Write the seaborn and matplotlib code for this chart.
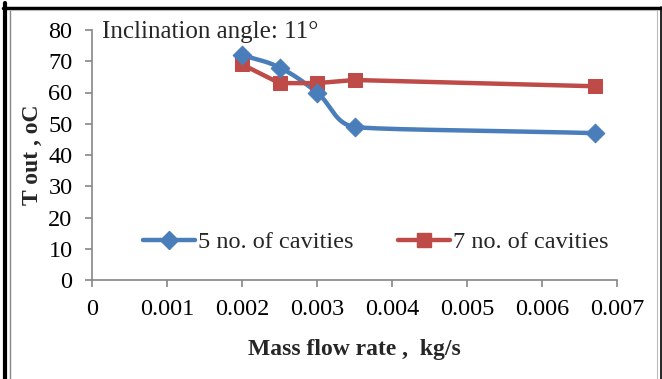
import numpy as np
import pandas as pd
import matplotlib
matplotlib.use("Agg")
import matplotlib.pyplot as plt
from matplotlib.lines import Line2D
import seaborn as sns

# ---- data ----
mass_flow = [0.002, 0.0025, 0.003, 0.0035, 0.0067]
tout_5 = [72, 68, 60, 49, 47]
tout_7 = [69, 63, 63, 64, 62]
series_names = ["5 no. of cavities", "7 no. of cavities"]
x_ticks = [0, 0.001, 0.002, 0.003, 0.004, 0.005, 0.006, 0.007]
x_ticklabels = ["0", "0.001", "0.002", "0.003", "0.004", "0.005", "0.006", "0.007"]
y_ticks = [0, 10, 20, 30, 40, 50, 60, 70, 80]

BLUE = "#4A7EBB"
RED = "#BE4B48"
GRAY = "#868686"

sns.set_theme(style="white")
plt.rcParams["font.family"] = ["Liberation Serif", "DejaVu Serif"]

W, H = 662, 379
fig = plt.figure(figsize=(W / 100, H / 100), dpi=100)
left, right, top, bottom = 92, 617, 30, 280
ax = fig.add_axes([left / W, 1 - bottom / H, (right - left) / W, (bottom - top) / H])

xlim = (0, 0.007)
ylim = (0, 80)
ax.set_xlim(*xlim)
ax.set_ylim(*ylim)


def smooth(xs, ys, n=40):
    """Smoothed display curve through the data points (Bezier, tangent length limited by neighbours)."""
    sx = (xlim[1] - xlim[0]) / (right - left)
    sy = (ylim[1] - ylim[0]) / (bottom - top)
    P = np.column_stack([np.asarray(xs) / sx, np.asarray(ys) / sy])
    m = len(P)
    seglen = [np.linalg.norm(P[i + 1] - P[i]) for i in range(m - 1)]
    tang = []
    for i in range(m):
        a = P[i - 1] if i > 0 else P[i]
        b = P[i + 1] if i < m - 1 else P[i]
        d = b - a
        tang.append(d / (np.linalg.norm(d) + 1e-9))
    out = []
    for i in range(m - 1):
        p1, p2 = P[i], P[i + 1]
        L = seglen[i]
        k1 = 0.4 * min(L, seglen[i - 1]) if i > 0 else 0.4 * L
        k2 = 0.4 * min(L, seglen[i + 1]) if i + 1 < m - 1 else 0.4 * L
        c1 = p1 + tang[i] * k1
        c2 = p2 - tang[i + 1] * k2
        t = np.linspace(0, 1, n)[:, None]
        seg = (1 - t) ** 3 * p1 + 3 * (1 - t) ** 2 * t * c1 + 3 * (1 - t) * t ** 2 * c2 + t ** 3 * p2
        out.append(seg if i == 0 else seg[1:])
    C = np.vstack(out)
    return C[:, 0] * sx, C[:, 1] * sy


sx5, sy5 = smooth(mass_flow, tout_5)
df5 = pd.DataFrame({"x": sx5, "y": sy5})
df7 = pd.DataFrame({"x": mass_flow, "y": tout_7})
dfm5 = pd.DataFrame({"x": mass_flow, "y": tout_5})

sns.lineplot(data=df5, x="x", y="y", ax=ax, color=BLUE, lw=3.2, sort=False, zorder=3)
sns.scatterplot(data=dfm5, x="x", y="y", ax=ax, color=BLUE, marker="D", s=90,
                edgecolor=BLUE, zorder=4)
sns.lineplot(data=df7, x="x", y="y", ax=ax, color=RED, lw=3.2, sort=False, zorder=3,
             marker="s", markersize=10, markeredgecolor=RED)

# axes styling
for s in ["top", "right"]:
    ax.spines[s].set_visible(False)
for s in ["left", "bottom"]:
    ax.spines[s].set_color(GRAY)
    ax.spines[s].set_linewidth(1.2)
ax.set_xticks(x_ticks)
ax.set_xticklabels(x_ticklabels)
ax.set_yticks(y_ticks)
ax.tick_params(axis="both", which="major", direction="out", length=5, width=1.2,
               color=GRAY, labelsize=17.5, labelcolor="black", left=True, bottom=True)
ax.tick_params(axis="x", pad=9)
ax.tick_params(axis="y", pad=9)
ax.set_xlabel("Mass flow rate ,  kg/s", fontsize=17, fontweight="bold", labelpad=13)
ax.set_ylabel("T out , oC", fontsize=17, fontweight="bold", labelpad=4)
ax.grid(False)
ax.set_facecolor("white")

ax.text(0.00014, 79.5, "Inclination angle: 11\u00b0", fontsize=18,
        ha="left", va="center")

handles = [
    Line2D([], [], color=BLUE, lw=3.2, marker="D", markersize=9.5, markeredgecolor=BLUE),
    Line2D([], [], color=RED, lw=3.2, marker="s", markersize=10, markeredgecolor=RED),
]
ax.legend(handles, series_names, loc="center left", bbox_to_anchor=(0.097, 0.152),
          ncol=2, frameon=False, fontsize=17.5, handlelength=2.15, handletextpad=0.1,
          columnspacing=1.85, borderaxespad=0, borderpad=0)

# outer frame
fig.add_artist(Line2D([5 / W, 5 / W], [0, 1 - 3 / H], color="black", lw=3, transform=fig.transFigure))
fig.add_artist(Line2D([10 / W, 10 / W], [0, 1 - 10 / H], color=GRAY, lw=1, transform=fig.transFigure))
fig.add_artist(Line2D([3 / W, 1], [1 - 7.5 / H, 1 - 7.5 / H], color="black", lw=2.5, transform=fig.transFigure))
fig.add_artist(Line2D([660.5 / W, 660.5 / W], [0, 1 - 7 / H], color="black", lw=1.2, transform=fig.transFigure))
fig.add_artist(Line2D([10 / W, 657 / W], [1 - 10 / H, 1 - 10 / H], color="#BBBBBB", lw=0.8, transform=fig.transFigure))
fig.add_artist(Line2D([657 / W, 657 / W], [0, 1 - 10 / H], color="#BBBBBB", lw=0.8, transform=fig.transFigure))

fig.savefig("out.png", dpi=100, facecolor="white")
